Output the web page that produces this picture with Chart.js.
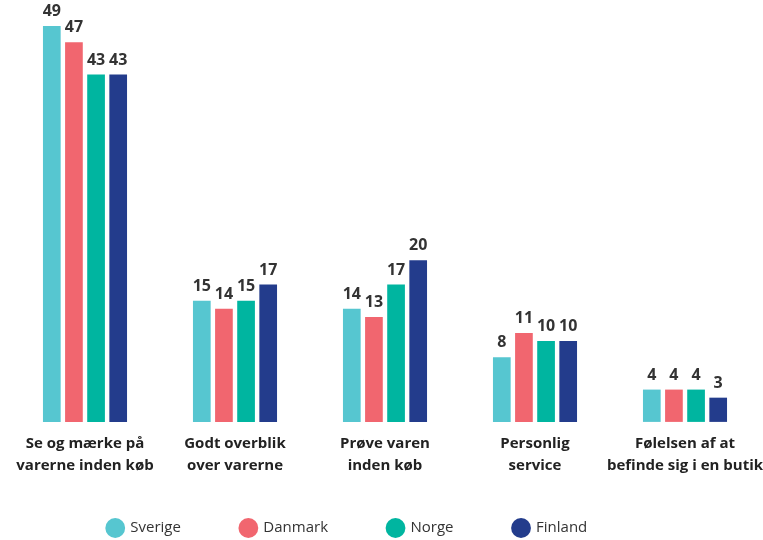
<!DOCTYPE html>
<html>
<head>
<meta charset="utf-8">
<script src="https://cdn.jsdelivr.net/npm/chart.js@4"></script>
<style>
  body { margin: 0; background: #fff; }
  #wrap { width: 763px; height: 540px; position: relative; }
</style>
</head>
<body>
<div id="wrap"><canvas id="chart"></canvas></div>
<script>
const categories = [
  ["Se og mærke på", "varerne inden køb"],
  ["Godt overblik", "over varerne"],
  ["Prøve varen", "inden køb"],
  ["Personlig", "service"],
  ["Følelsen af at", "befinde sig i en butik"]
];
const seriesNames = ["Sverige", "Danmark", "Norge", "Finland"];
const sverige = [49, 15, 14, 8, 4];
const danmark = [47, 14, 13, 11, 4];
const norge   = [43, 15, 17, 10, 4];
const finland = [43, 17, 20, 10, 3];
const colors = ["#56C6D0", "#F1666F", "#00B5A0", "#233C8C"];

const FONT = "'Open Sans'";

// tal over søjlerne
const valueLabels = {
  id: "valueLabels",
  afterDatasetsDraw(chart) {
    const ctx = chart.ctx;
    ctx.save();
    ctx.font = "bold 16px " + FONT;
    ctx.fillStyle = "#333";
    ctx.textAlign = "center";
    ctx.textBaseline = "alphabetic";
    chart.data.datasets.forEach((ds, i) => {
      chart.getDatasetMeta(i).data.forEach((bar, j) => {
        ctx.fillText(ds.data[j], bar.x, bar.y - 10);
      });
    });
    ctx.restore();
  }
};

// flyt legenden lidt op og til venstre
const legendPlace = {
  id: "legendPlace",
  afterLayout(chart) {
    const lg = chart.legend;
    lg.top = 528 - 7.5 - lg.options.labels.padding;
    lg.left -= 37.5;
    lg.right -= 37.5;
  }
};

const seriesData = [sverige, danmark, norge, finland];

new Chart(document.getElementById("chart"), {
  type: "bar",
  data: {
    labels: categories,
    datasets: seriesNames.map((name, i) => ({
      label: name,
      data: seriesData[i],
      backgroundColor: colors[i],
      borderWidth: 0,
      categoryPercentage: 0.59,
      barPercentage: 0.8
    }))
  },
  options: {
    responsive: true,
    maintainAspectRatio: false,
    animation: false,
    layout: { padding: { top: 18, left: 10, right: 3, bottom: -33 } },
    plugins: {
      tooltip: { enabled: false },
      legend: {
        position: "bottom",
        labels: {
          usePointStyle: true,
          pointStyle: "circle",
          boxHeight: 14,
          padding: 60,
          color: "#333",
          font: { family: FONT, size: 15 }
        }
      }
    },
    scales: {
      x: {
        grid: { display: false, drawTicks: false },
        border: { display: false },
        ticks: {
          color: "#222",
          padding: 11,
          maxRotation: 0,
          autoSkip: false,
          font: { family: FONT, size: 15, weight: "bold", lineHeight: 1.47 }
        },
        afterFit: s => { s.paddingLeft = 0; s.paddingRight = 0; }
      },
      y: { display: false, min: 0, max: 50 }
    }
  },
  plugins: [valueLabels, legendPlace]
});
</script>
</body>
</html>
